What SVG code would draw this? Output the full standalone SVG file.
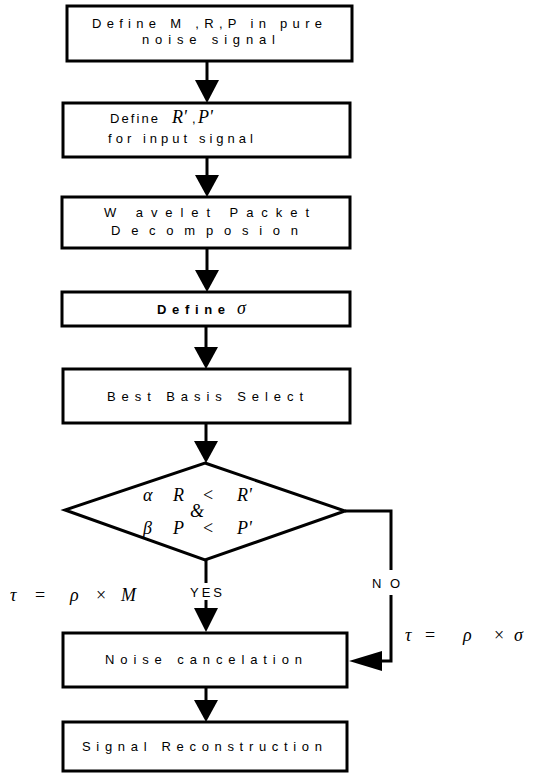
<svg xmlns="http://www.w3.org/2000/svg" width="535" height="777" viewBox="0 0 535 777">
<style>
.box{fill:#fff;stroke:#000;stroke-width:3}
.ln{fill:none;stroke:#000;stroke-width:3}
.ah{fill:#000;stroke:none}
.t{font-family:"Liberation Sans",Arial,sans-serif;font-size:13px;fill:#000}
.tb{font-family:"Liberation Sans",Arial,sans-serif;font-size:13px;font-weight:bold;fill:#000}
.m{font-family:"Liberation Serif","Times New Roman",serif;font-style:italic;font-size:18px;fill:#000}
.mu{font-family:"Liberation Serif","Times New Roman",serif;font-size:18px;fill:#000}
</style>
<rect width="535" height="777" fill="#fff"/>
<g id="connectors">
<line class="ln" x1="207" y1="61" x2="207" y2="82"/>
<polygon class="ah" points="195,80 219,80 207,103"/>
<line class="ln" x1="207" y1="157" x2="207" y2="176"/>
<polygon class="ah" points="195,175 219,175 207,197"/>
<line class="ln" x1="207" y1="248" x2="207" y2="271"/>
<polygon class="ah" points="195,270 219,270 207,292"/>
<line class="ln" x1="206" y1="326" x2="206" y2="348"/>
<polygon class="ah" points="194,347 218,347 206,369"/>
<line class="ln" x1="206" y1="423" x2="206" y2="442"/>
<polygon class="ah" points="194,441 218,441 206,463"/>
<line class="ln" x1="206" y1="560" x2="206" y2="583"/>
<line class="ln" x1="206" y1="600" x2="206" y2="610"/>
<polygon class="ah" points="194,608 218,608 206,632"/>
<line class="ln" x1="206" y1="687" x2="206" y2="702"/>
<polygon class="ah" points="194,700 218,700 206,722"/>
<polyline class="ln" points="345,511 391,511 391,570"/>
<polyline class="ln" points="391,595 391,661 375,661"/>
<polygon class="ah" points="349,661 382,651 382,671"/>
</g>
<g id="n1">
<rect class="box" x="67" y="6" width="285" height="55"/>
<text class="t" x="92" y="28" textLength="230" lengthAdjust="spacing">Define M ,R,P in pure</text>
<text class="t" x="142" y="44" textLength="133" lengthAdjust="spacing">noise signal</text>
</g>
<g id="n2">
<rect class="box" x="63" y="103" width="287" height="54"/>
<text class="t" x="110" y="123" textLength="48" lengthAdjust="spacing">Define</text>
<text class="m" x="172" y="123">R'</text>
<text class="t" x="192" y="123">,</text>
<text class="m" x="198" y="123">P'</text>
<text class="t" x="108" y="143" textLength="145" lengthAdjust="spacing">for input signal</text>
</g>
<g id="n3">
<rect class="box" x="62" y="197" width="288" height="51"/>
<text class="t" x="104" y="217" textLength="205" lengthAdjust="spacing">W avelet Packet</text>
<text class="t" x="111" y="235" textLength="187" lengthAdjust="spacing">Decomposion</text>
</g>
<g id="n4">
<rect class="box" x="62" y="292" width="288" height="34"/>
<text class="tb" x="157" y="314" textLength="68" lengthAdjust="spacing">Define</text>
<text class="m" x="237" y="314">σ</text>
</g>
<g id="n5">
<rect class="box" x="63" y="369" width="287" height="54"/>
<text class="t" x="107" y="401" textLength="196" lengthAdjust="spacing">Best Basis Select</text>
</g>
<g id="n6">
<polygon class="box" stroke-width="3.5" points="205,463 345,511 205,560 65,510"/>
<text class="m" x="143" y="501">α</text>
<text class="m" x="173" y="501">R</text>
<text class="mu" x="203" y="501">&lt;</text>
<text class="m" x="237" y="501">R'</text>
<text class="m" x="190" y="517" font-size="15">&amp;</text>
<text class="m" x="143" y="534">β</text>
<text class="m" x="173" y="534">P</text>
<text class="mu" x="203" y="534">&lt;</text>
<text class="m" x="237" y="534">P'</text>
</g>
<g id="labels">
<text class="t" x="190" y="597" textLength="32" lengthAdjust="spacing">YES</text>
<text class="t" x="372" y="588" textLength="28" lengthAdjust="spacing">NO</text>
<text class="m" x="10" y="601">τ</text>
<text class="mu" x="35" y="601">=</text>
<text class="m" x="70" y="601">ρ</text>
<text class="mu" x="96" y="601">×</text>
<text class="m" x="121" y="601">M</text>
<text class="m" x="405" y="641">τ</text>
<text class="mu" x="425" y="641">=</text>
<text class="m" x="463" y="641">ρ</text>
<text class="mu" x="494" y="641">×</text>
<text class="m" x="514" y="641">σ</text>
</g>
<g id="n7">
<rect class="box" x="63" y="633" width="284" height="54"/>
<text class="t" x="105" y="664" textLength="197" lengthAdjust="spacing">Noise cancelation</text>
</g>
<g id="n8">
<rect class="box" x="63" y="722" width="284" height="49"/>
<text class="t" x="82" y="751" textLength="240" lengthAdjust="spacing">Signal Reconstruction</text>
</g>
</svg>
